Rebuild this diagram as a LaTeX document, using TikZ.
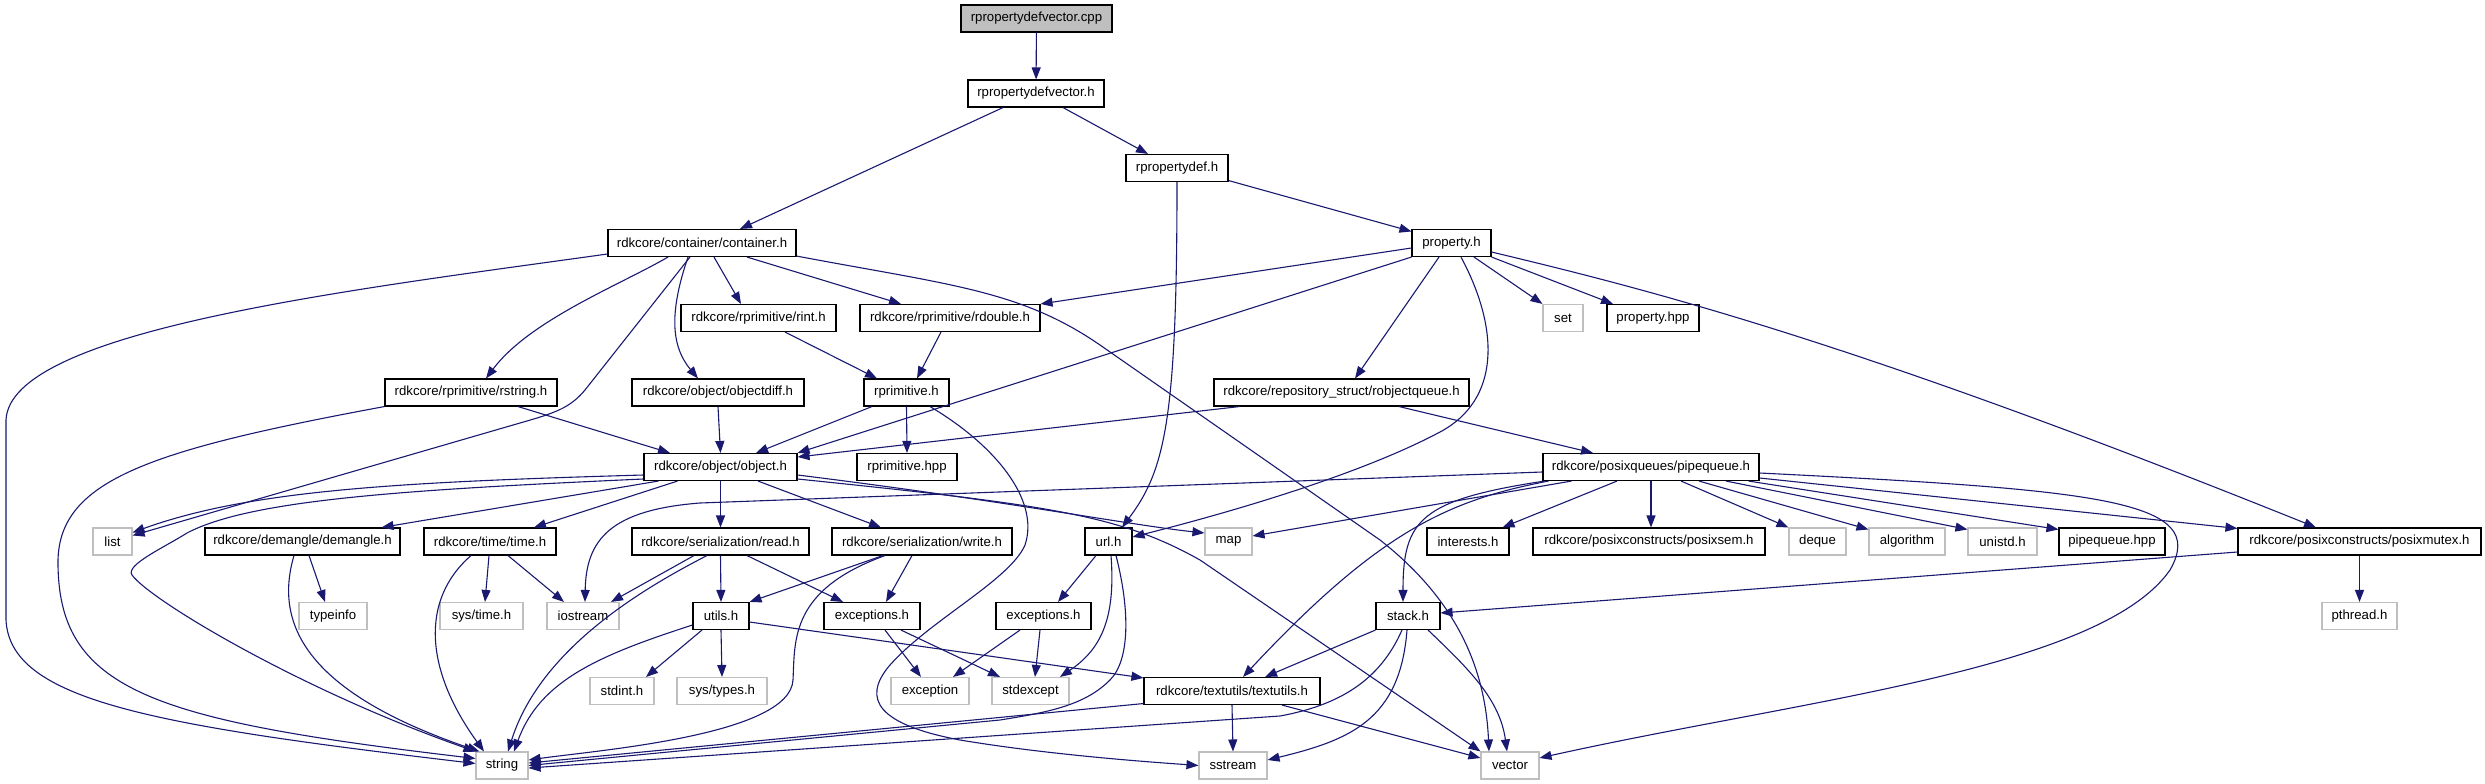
\documentclass[tikz,border=0pt]{standalone}
\usepackage{fontspec}
\setmainfont{Liberation Sans}
\usetikzlibrary{arrows.meta}
\definecolor{edgec}{RGB}{25,25,112}
\definecolor{graybd}{RGB}{191,191,191}
\begin{document}
\begin{tikzpicture}[x=1pt,y=-1pt,
  nd/.style={draw=black,line width=1.1pt,inner sep=0pt,minimum height=27pt,font=\fontsize{13.2}{15}\selectfont,text=black},
  gnd/.style={nd,draw=graybd},
  e/.style={draw=edgec,line width=1.1pt,-{Triangle[length=12pt,width=9pt]}}]
\useasboundingbox (0,0) rectangle (2485,784);
% nodes
\node[nd,fill=graybd,minimum width=151pt] (cpp) at (1036.5,18.5) {rpropertydefvector.cpp};
\node[nd,minimum width=136pt] (pvh) at (1036,93.5) {rpropertydefvector.h};
\node[nd,minimum width=102pt] (pdef) at (1177,168) {rpropertydef.h};
\node[nd,minimum width=188pt] (cont) at (702,243) {rdkcore/container/container.h};
\node[nd,minimum width=79pt] (prop) at (1451.5,243) {property.h};
\node[nd,minimum width=155pt] (rint) at (758.5,318) {rdkcore/rprimitive/rint.h};
\node[nd,minimum width=180pt] (rdouble) at (950,318) {rdkcore/rprimitive/rdouble.h};
\node[gnd,minimum width=40pt] (set) at (1563,318) {set};
\node[nd,minimum width=92pt] (phpp) at (1653,318) {property.hpp};
\node[nd,minimum width=172pt] (rstring) at (471,392.5) {rdkcore/rprimitive/rstring.h};
\node[nd,minimum width=172pt] (objdiff) at (718,392.5) {rdkcore/object/objectdiff.h};
\node[nd,minimum width=85pt] (rprim) at (906.5,392.5) {rprimitive.h};
\node[nd,minimum width=255pt] (robjq) at (1341.5,392.5) {rdkcore/repository\_struct/robjectqueue.h};
\node[nd,minimum width=153pt] (obj) at (720.5,467) {rdkcore/object/object.h};
\node[nd,minimum width=100pt] (rphpp) at (907,467) {rprimitive.hpp};
\node[nd,minimum width=216pt] (pipe) at (1651,467) {rdkcore/posixqueues/pipequeue.h};
\node[gnd,minimum width=39pt] (list) at (112.5,541.5) {list};
\node[nd,minimum width=195pt] (demangle) at (302.5,541.5) {rdkcore/demangle/demangle.h};
\node[nd,minimum width=132pt] (time) at (490,541.5) {rdkcore/time/time.h};
\node[nd,minimum width=177pt] (read) at (720.5,541.5) {rdkcore/serialization/read.h};
\node[nd,minimum width=180pt] (write) at (922,541.5) {rdkcore/serialization/write.h};
\node[nd,minimum width=47pt] (url) at (1108.5,541.5) {url.h};
\node[gnd,minimum width=47pt] (map) at (1228.5,541.5) {map};
\node[nd,minimum width=82pt] (interests) at (1468,541.5) {interests.h};
\node[nd,minimum width=232pt] (posixsem) at (1649,541.5) {rdkcore/posixconstructs/posixsem.h};
\node[gnd,minimum width=57pt] (deque) at (1817.5,541.5) {deque};
\node[gnd,minimum width=76pt] (algorithm) at (1907,541.5) {algorithm};
\node[gnd,minimum width=69pt] (unistd) at (2002.5,541.5) {unistd.h};
\node[nd,minimum width=106pt] (pqhpp) at (2112,541.5) {pipequeue.hpp};
\node[nd,minimum width=243pt] (posixmutex) at (2359.5,541.5) {rdkcore/posixconstructs/posixmutex.h};
\node[gnd,minimum width=68pt] (typeinfo) at (333,616) {typeinfo};
\node[gnd,minimum width=83pt] (systime) at (481.5,616) {sys/time.h};
\node[gnd,minimum width=72pt] (iostream) at (583,616) {iostream};
\node[nd,minimum width=56pt] (utils) at (721,616) {utils.h};
\node[nd,minimum width=96pt] (exc1) at (872,616) {exceptions.h};
\node[nd,minimum width=95pt] (exc2) at (1043.5,616) {exceptions.h};
\node[nd,minimum width=64pt] (stack) at (1408,616) {stack.h};
\node[gnd,minimum width=75pt] (pthread) at (2359.5,616) {pthread.h};
\node[gnd,minimum width=64pt] (stdint) at (622,691) {stdint.h};
\node[gnd,minimum width=90pt] (systypes) at (722,691) {sys/types.h};
\node[gnd,minimum width=78pt] (exception) at (930,691) {exception};
\node[gnd,minimum width=77pt] (stdexcept) at (1030.5,691) {stdexcept};
\node[nd,minimum width=176pt] (textutils) at (1232,691) {rdkcore/textutils/textutils.h};
\node[gnd,minimum width=52pt] (string) at (502,765.5) {string};
\node[gnd,minimum width=68pt] (sstream) at (1233,765.5) {sstream};
\node[gnd,minimum width=58pt] (vector) at (1510,765.5) {vector};
% edges
\draw[e] (cpp) -- (pvh);
\draw[e] ([xshift=-33pt]pvh.south) -- ([xshift=38pt]cont.north);
\draw[e] ([xshift=27pt]pvh.south) -- ([xshift=-29pt]pdef.north);
\draw[e] ([yshift=1.5pt]pdef.south east) -- ([yshift=-2.5pt]prop.north west);
\draw[e] (pdef.south) .. controls (1177,420) and (1165,470) .. ([xshift=13.5pt]url.north);
% container
\draw[e] ([yshift=-11pt]cont.west) .. controls (350,290) and (10,330) .. (6,420) -- (6,620) .. controls (10,700) and (150,725) .. ([yshift=2pt]string.west);
\draw[e] ([xshift=-12pt]cont.south) -- (585,390) .. controls (570,408) and (555,413) .. (520,423) -- ([yshift=6pt]list.east);
\draw[e] ([xshift=-34pt]cont.south) .. controls (620,285) and (530,320) .. ([xshift=15pt]rstring.north);
\draw[e] ([xshift=-14pt]cont.south) .. controls (670,310) and (670,345) .. ([xshift=-20pt]objdiff.north);
\draw[e] ([xshift=12pt]cont.south) -- ([xshift=-17.5pt]rint.north);
\draw[e] ([xshift=45pt]cont.south) -- ([xshift=-49pt]rdouble.north);
\draw[e] ([yshift=1pt]cont.south east) .. controls (950,285) and (1020,290) .. (1100,345) -- (1380,540) .. controls (1450,595) and (1485,660) .. ([xshift=-21pt]vector.north);
% property
\draw[e] ([yshift=-5pt]prop.west) -- (rdouble.north east);
\draw[e] (prop.south west) -- (obj.north east);
\draw[e] ([xshift=-12.5pt]prop.south) -- ([xshift=13.5pt]robjq.north);
\draw[e] ([xshift=9.5pt]prop.south) .. controls (1500,330) and (1500,400) .. (1440,432) .. controls (1350,480) and (1200,520) .. ([yshift=4.5pt]url.east);
\draw[e] ([xshift=22.5pt]prop.south) -- (set.north west);
\draw[e] (prop.south east) -- ([xshift=-40pt]phpp.north);
\draw[e] ([yshift=-9pt]prop.east) .. controls (1650,290) and (1850,340) .. ([xshift=-43.5pt]posixmutex.north);
% row 5
\draw[e] ([xshift=47pt]rstring.south) -- ([xshift=-50.5pt]obj.north);
\draw[e] (rstring.south west) .. controls (150,450) and (60,480) .. (58,560) .. controls (57,690) and (150,720) .. ([yshift=7pt]string.west);
\draw[e] (objdiff.south) -- (obj.north);
\draw[e] ([xshift=26.5pt]rint.south) -- ([xshift=-29.5pt]rprim.north);
\draw[e] ([xshift=-9pt]rdouble.south) -- ([xshift=10.5pt]rprim.north);
\draw[e] ([xshift=-34.5pt]rprim.south) -- ([xshift=35.5pt]obj.north);
\draw[e] (rprim.south) -- (rphpp.north);
\draw[e] ([xshift=23.5pt]rprim.south) .. controls (995,445) and (1040,500) .. (1025,545) .. controls (1010,580) and (930,620) .. (890,665) .. controls (860,700) and (880,725) .. (960,740) .. controls (1050,755) and (1150,762) .. (sstream.west);
\draw[e] ([xshift=26pt]robjq.south west) -- ([yshift=10pt]obj.east);
\draw[e] ([xshift=57.5pt]robjq.south) -- ([xshift=-58pt]pipe.north);
% object
\draw[e] ([yshift=-8pt]obj.west) .. controls (400,482) and (250,490) .. ([yshift=9pt]list.east);
\draw[e] ([yshift=-12pt]obj.west) .. controls (400,490) and (250,500) .. (187,533) .. controls (165,547) and (125,565) .. (132,575) .. controls (150,600) and (300,690) .. (string.north west);
\draw[e] ([xshift=15pt]obj.south west) -- ([xshift=-19pt]demangle.north east);
\draw[e] ([xshift=-43pt]obj.south) -- ([xshift=44pt]time.north);
\draw[e] (obj.south) -- (read.north);
\draw[e] ([xshift=37.5pt]obj.south) -- ([xshift=-41pt]write.north);
\draw[e] ([yshift=-8pt]obj.east) .. controls (1000,500) and (1130,525) .. ([yshift=8.5pt]map.west);
\draw[e] ([yshift=-12pt]obj.east) .. controls (1050,505) and (1120,515) .. (1200,560) -- (vector.north west);
% row 7
\draw[e] ([xshift=6.5pt]demangle.south) -- ([xshift=-8pt]typeinfo.north);
\draw[e] ([xshift=-8.5pt]demangle.south) .. controls (275,620) and (300,690) .. ([xshift=4pt]string.north west);
\draw[e] ([xshift=-1pt]time.south) -- ([xshift=3.5pt]systime.north);
\draw[e] ([xshift=18pt]time.south) -- ([xshift=-19pt]iostream.north);
\draw[e] ([xshift=-19pt]time.south) .. controls (420,600) and (425,670) .. ([xshift=-18pt]string.north);
\draw[e] ([xshift=-26.5pt]read.south) -- ([xshift=28pt]iostream.north);
\draw[e] (read.south) -- (utils.north);
\draw[e] ([xshift=26.5pt]read.south) -- ([xshift=-29pt]exc1.north);
\draw[e] ([xshift=-13.5pt]read.south) .. controls (640,590) and (540,650) .. ([xshift=6pt]string.north);
\draw[e] ([xshift=-39pt]write.south) -- (utils.north east);
\draw[e] ([xshift=-10pt]write.south) -- ([xshift=14pt]exc1.north);
\draw[e] ([xshift=-37pt]write.south) .. controls (790,590) and (795,640) .. (793,680) .. controls (790,735) and (600,750) .. ([yshift=5.5pt]string.east);
\draw[e] ([xshift=-12.5pt]url.south) -- ([xshift=14.5pt]exc2.north);
\draw[e] ([xshift=2.5pt]url.south) .. controls (1116,620) and (1100,650) .. ([xshift=29.5pt]stdexcept.north);
\draw[e] ([xshift=7.5pt]url.south) .. controls (1130,610) and (1130,660) .. (1110,680) .. controls (1085,705) and (1050,712) .. (1000,720) -- (string.east);
% row 8
\draw[e] ([xshift=-19pt]utils.south) -- ([xshift=24pt]stdint.north);
\draw[e] (utils.south) -- (systypes.north);
\draw[e] ([yshift=-6pt]utils.east) -- ([yshift=-1pt]textutils.north west);
\draw[e] ([yshift=-9pt]utils.west) .. controls (600,655) and (540,680) .. ([xshift=12pt]string.north);
\draw[e] ([xshift=13pt]exc1.south) -- ([xshift=-9pt]exception.north);
\draw[e] ([xshift=29pt]exc1.south) -- ([xshift=-30.5pt]stdexcept.north);
\draw[e] ([xshift=-23.5pt]exc2.south) -- ([xshift=23pt]exception.north);
\draw[e] ([xshift=-3.5pt]exc2.south) -- ([xshift=4.5pt]stdexcept.north);
\draw[e] ([yshift=1.5pt]textutils.south west) -- ([yshift=2.5pt]string.east);
\draw[e] (textutils.south) -- (sstream.north);
\draw[e] ([xshift=50pt]textutils.south) -- ([yshift=7.5pt]vector.west);
% pipequeue
\draw[e] ([yshift=-5pt]pipe.west) -- (700,503) .. controls (610,510) and (586,540) .. ([xshift=2pt]iostream.north);
\draw[e] ([xshift=29pt]pipe.south west) -- ([yshift=5.5pt]map.east);
\draw[e] ([xshift=-34pt]pipe.south) -- ([xshift=-7pt]interests.north east);
\draw[e] (pipe.south) -- ([xshift=2pt]posixsem.north);
\draw[e] ([xshift=30pt]pipe.south) -- (deque.north west);
\draw[e] ([xshift=48pt]pipe.south) -- ([yshift=-2pt]algorithm.north west);
\draw[e] ([xshift=75pt]pipe.south) -- ([yshift=-2pt]unistd.north west);
\draw[e] ([xshift=-11pt]pipe.south east) -- ([yshift=-2pt]pqhpp.north west);
\draw[e] ([yshift=-11pt]pipe.east) -- ([yshift=-1pt]posixmutex.north west);
\draw[e] ([xshift=2pt]pipe.south west) .. controls (1420,500) and (1403,520) .. ([xshift=-5pt]stack.north);
\draw[e] ([xshift=6pt]pipe.south west) .. controls (1450,500) and (1380,530) .. ([xshift=11pt]textutils.north);
\draw[e] ([yshift=-6pt]pipe.east) .. controls (2100,490) and (2210,500) .. (2170,570) .. controls (2100,670) and (1800,700) .. ([yshift=7.5pt]vector.east);
\draw[e] ([yshift=-10.5pt]posixmutex.west) -- ([yshift=3pt]stack.east);
\draw[e] (posixmutex.south) -- (pthread.north);
% stack
\draw[e] (stack.south west) -- ([xshift=33pt]textutils.north);
\draw[e] ([xshift=-6pt]stack.south) .. controls (1380,680) and (1340,705) .. (1280,716) -- ([yshift=-2.5pt]string.east);
\draw[e] ([xshift=-1pt]stack.south) .. controls (1400,720) and (1350,740) .. ([yshift=5.5pt]sstream.east);
\draw[e] ([xshift=20pt]stack.south) .. controls (1470,670) and (1500,700) .. ([xshift=-3pt]vector.north);
\end{tikzpicture}
\end{document}
